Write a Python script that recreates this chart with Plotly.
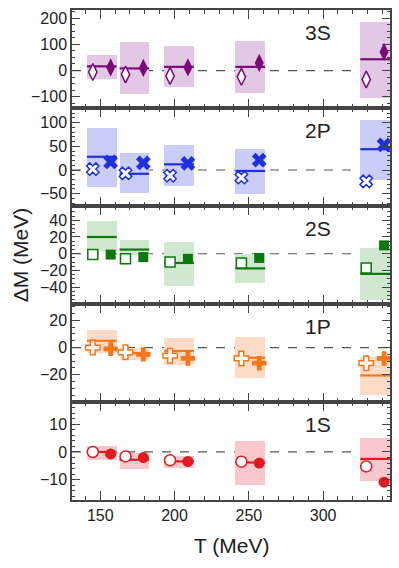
import plotly.graph_objects as go
from plotly.subplots import make_subplots

# Temperatures (MeV) of each lattice point
T = [151, 173, 203, 251, 335]

states = ["3S", "2P", "2S", "1P", "1S"]

# band upper/lower edges, central line, open marker, filled marker
s3_hi = [60, 107, 94, 114, 186]
s3_lo = [-34, -91, -63, -87, -103]
s3_line = [16, 8, 14, 14, 43]
s3_open = [-6, -15, -21, -24, -34]
s3_fill = [12, 10, 12, 29, 71]

p2_hi = [88, 35, 53, 45, 106]
p2_lo = [-35, -49, -33, -50, -21]
p2_line = [28, -8, 12, -2, 44]
p2_open = [2, -7, -12, -16, -24]
p2_fill = [17, 15, 14, 21, 53]

s2_hi = [39, 17, 14, 0, 7]
s2_lo = [3, 0, -38, -35, -55]
s2_line = [20, 5, -11, -17.5, -24]
s2_open = [-1, -6, -10, -11, -17]
s2_fill = [-1, -4, -6, -5, 10]

p1_hi = [13, 0, 7, 8, -7]
p1_lo = [-4, -9, -13, -22.5, -35]
p1_line = [5, -4, -2.5, -7.5, -20.5]
p1_open = [0, -3.5, -6, -8, -11.5]
p1_fill = [-1, -5, -8, -11.5, -8]

s1_hi = [2, -0.4, -1.6, 3.9, 5.1]
s1_lo = [-2.8, -6.2, -5.8, -11.9, -10.3]
s1_line = [0, -2.8, -3.4, -3.8, -2.5]
s1_open = [0, -1.6, -3, -3.5, -5.2]
s1_fill = [-0.7, -2, -3.4, -4, -10.9]

y_ranges = [[-143, 231], [-76, 131], [-60, 57], [-40, 32], [-17.3, 18]]
y_ticks = [[-100, 0, 100, 200], [-50, 0, 50, 100], [-40, -20, 0, 20, 40], [-20, 0, 20], [-10, 0, 10]]
y_minor = [25, 10, 5, 5, 2]

panels = [
    dict(hi=s3_hi, lo=s3_lo, line=s3_line, op=s3_open, fi=s3_fill,
         c="#7a0a78", band="#e3c8e6", sym="diamond-tall", so=12, sf=13),
    dict(hi=p2_hi, lo=p2_lo, line=p2_line, op=p2_open, fi=p2_fill,
         c="#1f30e0", band="#c9cdf7", sym="x", so=11, sf=13),
    dict(hi=s2_hi, lo=s2_lo, line=s2_line, op=s2_open, fi=s2_fill,
         c="#0a780a", band="#d0e8d0", sym="square", so=10, sf=10),
    dict(hi=p1_hi, lo=p1_lo, line=p1_line, op=p1_open, fi=p1_fill,
         c="#f6761c", band="#fcdcc6", sym="cross", so=12, sf=12),
    dict(hi=s1_hi, lo=s1_lo, line=s1_line, op=s1_open, fi=s1_fill,
         c="#e01a20", band="#f8c8cc", sym="circle", so=11, sf=11),
]

HALF = 10
OFF = 6

fig = make_subplots(rows=5, cols=1, shared_xaxes=True, vertical_spacing=0)

for i, p in enumerate(panels):
    r = i + 1
    fig.add_trace(go.Bar(x=T, y=[h - l for h, l in zip(p["hi"], p["lo"])], base=p["lo"],
                         width=2 * HALF, marker=dict(color=p["band"], line=dict(width=0)),
                         showlegend=False), row=r, col=1)
    lx, ly = [], []
    for t, v in zip(T, p["line"]):
        lx += [t - HALF, t + HALF, None]
        ly += [v, v, None]
    fig.add_trace(go.Scatter(x=lx, y=ly, mode="lines", line=dict(color=p["c"], width=2.2),
                             showlegend=False), row=r, col=1)
    fig.add_hline(y=0, line=dict(color="#555", width=1.2, dash="dash"), row=r, col=1, layer="below")
    fig.add_trace(go.Scatter(x=[t - OFF for t in T], y=p["op"], mode="markers",
                             marker=dict(symbol=p["sym"], size=p["so"],
                                         color="white", line=dict(color=p["c"], width=1.5)),
                             showlegend=False), row=r, col=1)
    fig.add_trace(go.Scatter(x=[t + OFF for t in T], y=p["fi"], mode="markers",
                             marker=dict(symbol=p["sym"], size=p["sf"], color=p["c"],
                                         line=dict(color=p["c"], width=0)),
                             showlegend=False), row=r, col=1)
    fig.update_yaxes(range=y_ranges[i], tickvals=y_ticks[i], row=r, col=1,
                     minor=dict(dtick=y_minor[i], ticks="inside", ticklen=3, tickcolor="#444"))
    fig.add_annotation(text=states[i], xref=f"x{'' if r == 1 else r} domain",
                       yref=f"y{'' if r == 1 else r} domain", x=0.775, y=0.77,
                       xanchor="center", yanchor="middle",
                       showarrow=False, font=dict(size=21, color="#222"))

fig.update_xaxes(range=[131, 345], tickvals=[150, 200, 250, 300], ticks="inside", ticklen=9,
                 minor=dict(dtick=10, ticks="inside", ticklen=4, tickcolor="#444"),
                 showline=True, linecolor="#444", linewidth=1.5, mirror="ticks",
                 tickcolor="#444", showgrid=False, zeroline=False,
                 tickfont=dict(size=16, color="#222"))
fig.update_yaxes(ticks="inside", ticklen=8, showline=True, linecolor="#444", linewidth=1.5,
                 mirror="ticks", tickcolor="#444", showgrid=False, zeroline=False,
                 tickfont=dict(size=16, color="#222"))

fig.add_annotation(text="T (MeV)", xref="paper", yref="paper", x=0.5, y=-0.092,
                   xanchor="center", yanchor="middle", showarrow=False,
                   font=dict(size=21, color="#222"))
fig.add_annotation(text="ΔM (MeV)", xref="paper", yref="paper", x=-0.1625, y=0.5,
                   xanchor="center", yanchor="middle",
                   textangle=-90, showarrow=False, font=dict(size=21, color="#222"))

fig.update_layout(width=399, height=568, margin=dict(l=72, r=7, t=10, b=68),
                  plot_bgcolor="white", paper_bgcolor="white", bargap=0,
                  font=dict(family="Liberation Sans, Arial, sans-serif"))

fig.write_html("out.html")
